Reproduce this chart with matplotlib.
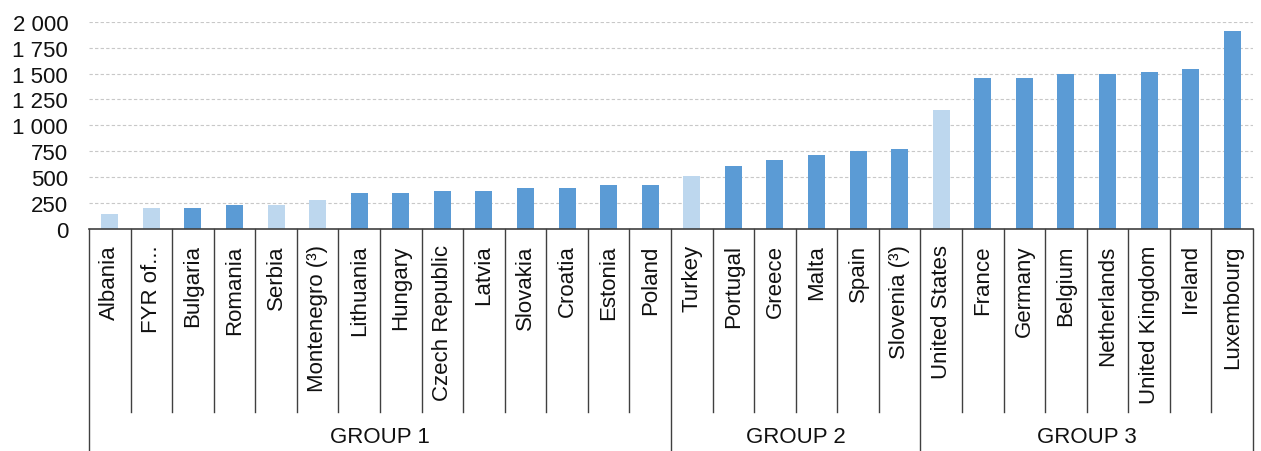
import matplotlib
matplotlib.use("Agg")
import matplotlib.pyplot as plt
import matplotlib.transforms as mtransforms
from matplotlib.ticker import FixedLocator, FuncFormatter

plt.rcParams['font.family'] = ['Liberation Sans', 'DejaVu Sans']

countries = ["Albania", "FYR of...", "Bulgaria", "Romania", "Serbia", "Montenegro (³)",
             "Lithuania", "Hungary", "Czech Republic", "Latvia", "Slovakia", "Croatia",
             "Estonia", "Poland", "Turkey", "Portugal", "Greece", "Malta", "Spain",
             "Slovenia (³)", "United States", "France", "Germany", "Belgium",
             "Netherlands", "United Kingdom", "Ireland", "Luxembourg"]
values = [145, 205, 205, 230, 230, 280, 350, 350, 362, 362, 395, 395, 420, 420,
          515, 612, 670, 718, 753, 776, 1147, 1458, 1458, 1494, 1494, 1519, 1541, 1910]
non_eu = ["Albania", "FYR of...", "Serbia", "Montenegro (³)", "Turkey", "United States"]
groups = ["GROUP 1", "GROUP 2", "GROUP 3"]
group_sizes = [14, 6, 8]
yticks = [0, 250, 500, 750, 1000, 1250, 1500, 1750, 2000]

DARK = "#5B9BD5"
LIGHT = "#BDD7EE"
TXT = "#111111"
LINE = "#404040"
FS = 16

fig = plt.figure(figsize=(12.61, 4.52), dpi=100)
ax = fig.add_axes([89/1261, (452-230)/452, (1253-89)/1261, 207.3/452])

x = list(range(len(countries)))
colors = [LIGHT if c in non_eu else DARK for c in countries]
ax.bar(x, values, width=0.41, color=colors, zorder=3)

ax.set_xlim(-0.5, len(countries) - 0.5)
ax.set_ylim(0, 2000)
ax.yaxis.set_major_locator(FixedLocator(yticks))
ax.yaxis.set_major_formatter(FuncFormatter(lambda v, p: f"{int(v):,}".replace(",", " ")))
ax.tick_params(axis='y', length=0, pad=15, labelsize=FS, labelcolor=TXT)
ax.set_xticks(x)
ax.set_xticklabels(countries, rotation=90, fontsize=FS, color=TXT, va='top', ha='center')
ax.tick_params(axis='x', length=0, pad=11)

ax.grid(axis='y', linestyle=(0, (3, 2)), color='#c8c8c8', linewidth=0.8, zorder=0)
for s in ['top', 'right', 'left']:
    ax.spines[s].set_visible(False)
ax.spines['bottom'].set_color(LINE)
ax.spines['bottom'].set_linewidth(1.2)
ax.spines['bottom'].set_zorder(4)

trans = mtransforms.blended_transform_factory(ax.transData, fig.transFigure)
y_axis = (452 - 230) / 452
y_inner = (452 - 412.5) / 452
y_outer = 0.0

bounds = [0]
for g in group_sizes:
    bounds.append(bounds[-1] + g)
outer_pos = [b - 0.5 for b in bounds]
for i in range(1, len(countries)):
    xp = i - 0.5
    if xp in outer_pos:
        continue
    ax.plot([xp, xp], [y_axis, y_inner], transform=trans, color=LINE, lw=1.0, clip_on=False)
for xp in outer_pos:
    ax.plot([xp, xp], [y_axis, y_outer], transform=trans, color=LINE, lw=1.0, clip_on=False)

for gi, g in enumerate(groups):
    cx = (bounds[gi] + bounds[gi + 1]) / 2 - 0.5
    ax.text(cx, (452 - 438) / 452, g, transform=trans, ha='center', va='center',
            fontsize=FS, color=TXT)

fig.savefig("out.png", dpi=100)
